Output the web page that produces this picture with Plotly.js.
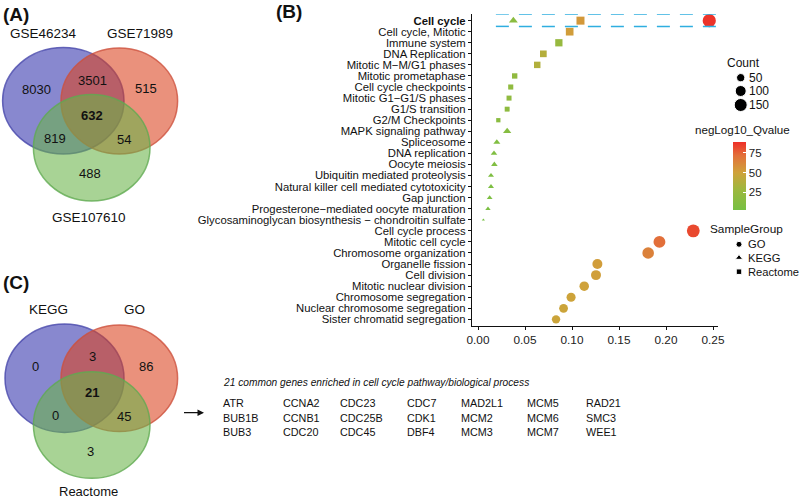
<!DOCTYPE html>
<html>
<head>
<meta charset="utf-8">
<script src="https://cdn.plot.ly/plotly-3.0.1.min.js"></script>
<style>html,body{margin:0;padding:0;background:#fff;}#chart{width:800px;height:498px;}</style>
</head>
<body>
<div id="chart"></div>
<script>
// ---------- Panel B data ----------
const termOrder = ['Cell cycle','Cell cycle, Mitotic','Immune system','DNA Replication','Mitotic M\u2212M/G1 phases','Mitotic prometaphase','Cell cycle checkpoints','Mitotic G1\u2212G1/S phases','G1/S transition','G2/M Checkpoints','MAPK signaling pathway','Spliceosome','DNA replication','Oocyte meiosis','Ubiquitin mediated proteolysis','Natural killer cell mediated cytotoxicity','Gap junction','Progesterone\u2212mediated oocyte maturation','Glycosaminoglycan biosynthesis \u2212 chondroitin sulfate','Cell cycle process','Mitotic cell cycle','Chromosome organization','Organelle fission','Cell division','Mitotic nuclear division','Chromosome segregation','Nuclear chromosome segregation','Sister chromatid segregation'];

const goTerms = ['Cell cycle','Cell cycle process','Mitotic cell cycle','Chromosome organization','Organelle fission','Cell division','Mitotic nuclear division','Chromosome segregation','Nuclear chromosome segregation','Sister chromatid segregation'];
const goRatio = [0.246,0.229,0.193,0.181,0.127,0.1255,0.113,0.099,0.091,0.083];
const goCount = [155,145,122,114,80,79,71,63,58,52];
const goQ = [88,82,72,64,52,51,50,49,48,48];

const keggTerms = ['Cell cycle','MAPK signaling pathway','Spliceosome','DNA replication','Oocyte meiosis','Ubiquitin mediated proteolysis','Natural killer cell mediated cytotoxicity','Gap junction','Progesterone\u2212mediated oocyte maturation','Glycosaminoglycan biosynthesis \u2212 chondroitin sulfate'];
const keggRatio = [0.0376,0.031,0.020,0.017,0.0174,0.0138,0.0138,0.0124,0.0106,0.0057];
const keggCount = [24,20,13,11,11,9,9,8,7,4];
const keggQ = [16,12,9,8,8,7,6,6,5,2];

const reactTerms = ['Cell cycle','Cell cycle, Mitotic','Immune system','DNA Replication','Mitotic M\u2212M/G1 phases','Mitotic prometaphase','Cell cycle checkpoints','Mitotic G1\u2212G1/S phases','G1/S transition','G2/M Checkpoints'];
const reactRatio = [0.109,0.0975,0.086,0.0695,0.063,0.039,0.0348,0.033,0.031,0.0216];
const reactCount = [69,62,54,44,40,25,22,21,20,14];
const reactQ = [54,52,24,38,37,20,19,19,18,15];

const xTicks = [0,0.05,0.10,0.15,0.20,0.25];
const countLegend = [50,100,150];
const qTicks = [25,50,75];
const groupNames = ['GO','KEGG','Reactome'];

// ---------- Venn data ----------
const vennA_sets = ['GSE46234','GSE71989','GSE107610'];
const vennA_vals = ['8030','3501','515','632','819','54','488'];
const vennC_sets = ['KEGG','GO','Reactome'];
const vennC_vals = ['0','3','86','21','0','45','3'];
const geneTitle = '21 common genes enriched in cell cycle pathway/biological process';
const genes = [['ATR','BUB1B','BUB3'],['CCNA2','CCNB1','CDC20'],['CDC23','CDC25B','CDC45'],['CDC7','CDK1','DBF4'],['MAD2L1','MCM2','MCM3'],['MCM5','MCM6','MCM7'],['RAD21','SMC3','WEE1']];

// ---------- helpers ----------
const W = 800, H = 498;
const px = x => x / W;
const py = y => 1 - y / H;
const FONT = 'Liberation Sans, Arial, sans-serif';
const cMin = 4, cMax = 155;
function sz(c, k) { return 2.2 * (1 + 5 * Math.sqrt(Math.max(0, (c - cMin) / (cMax - cMin)))) * k; }

const colorscale = [[0,'#77C043'],[0.3,'#9DB83E'],[0.55,'#CFA23A'],[0.8,'#E2703A'],[1,'#EE2F28']];

const traces = [
  {type:'scatter', mode:'markers', name:'GO', x: goRatio, y: goTerms,
   marker:{symbol:'circle', opacity:1, size: goCount.map(c=>sz(c,1)), color: goQ, coloraxis:'coloraxis', line:{width:0}}, showlegend:false, hoverinfo:'skip'},
  {type:'scatter', mode:'markers', name:'KEGG', x: keggRatio, y: keggTerms,
   marker:{symbol:'triangle-up', opacity:1, size: keggCount.map(c=>sz(c,1.25)), color: keggQ, coloraxis:'coloraxis', line:{width:0}}, showlegend:false, hoverinfo:'skip'},
  {type:'scatter', mode:'markers', name:'Reactome', x: reactRatio, y: reactTerms,
   marker:{symbol:'square', opacity:1, size: reactCount.map(c=>sz(c,0.85)), color: reactQ, coloraxis:'coloraxis', line:{width:0}}, showlegend:false, hoverinfo:'skip'},
  // legend glyphs on pixel axis
  {type:'scatter', mode:'markers', xaxis:'x2', yaxis:'y2', x:[740.7,740.7,740.7], y:[77.7,91,105],
   marker:{symbol:'circle', opacity:1, color:'#000', size: countLegend.map(c=>sz(c,1))}, showlegend:false, hoverinfo:'skip'},
  {type:'scatter', mode:'markers', xaxis:'x2', yaxis:'y2', x:[739,739,739], y:[244.3,257.7,271.7],
   marker:{symbol:['circle','triangle-up','square'], opacity:1, color:'#000', size:[6,6.5,5.5]}, showlegend:false, hoverinfo:'skip'}
];

const shapes = [];
const ann = [];
function circ(cx, cy, rx, ry, fill, line) {
  shapes.push({type:'circle', xref:'paper', yref:'paper', x0:px(cx-rx), x1:px(cx+rx), y0:py(cy+ry), y1:py(cy-ry),
    fillcolor: fill, line:{color: line, width:1.5}, layer:'below'});
}
function txt(x, y, t, size, opts) {
  ann.push(Object.assign({xref:'paper', yref:'paper', x:px(x), y:py(y), text:t, showarrow:false,
    xanchor:'center', yanchor:'middle', font:{family:FONT, size:size, color:'#111'}}, opts||{}));
}
const BLUE = 'rgba(45,45,170,0.57)', RED = 'rgba(218,65,30,0.58)', GREEN = 'rgba(105,180,72,0.58)';
const BLUEL = 'rgba(70,70,170,0.8)', REDL = 'rgba(205,80,60,0.8)', GREENL = 'rgba(95,170,80,0.8)';

// Venn A
circ(63.3,100.8,60.7,53.2,BLUE,BLUEL);
circ(119.3,101,58.3,53,RED,REDL);
circ(91.7,147.7,58.3,53.3,GREEN,GREENL);
// Venn C
circ(64.5,378.2,59.5,54.2,BLUE,BLUEL);
circ(119.3,378.3,58.3,53.3,RED,REDL);
circ(91.7,425,58.3,53.3,GREEN,GREENL);

// panel letters
txt(1,14,'<b>(A)</b>',19,{xanchor:'left'});
txt(274,11,'<b>(B)</b>',19,{xanchor:'left'});
txt(1,282,'<b>(C)</b>',19,{xanchor:'left'});

// Venn A labels
txt(43.3,33.3,vennA_sets[0],13.5);
txt(140.3,33.3,vennA_sets[1],13.5);
txt(89.2,217.7,vennA_sets[2],13.5);
const vAPos = [[36,89.3],[92.7,80],[145.7,88.7],[92,115.3],[55,138.3],[124.3,140],[90,173.3]];
vennA_vals.forEach((v,i)=>txt(vAPos[i][0],vAPos[i][1], i===3?'<b>'+v+'</b>':v, 13));
// Venn C labels
txt(48.3,309.3,vennC_sets[0],13.5);
txt(134.5,309.3,vennC_sets[1],13.5);
txt(88.2,491,vennC_sets[2],13);
const vCPos = [[35.7,366.7],[92.3,356.7],[145.7,366.7],[92,392.7],[55,415.7],[124.3,416.7],[90,451.7]];
vennC_vals.forEach((v,i)=>txt(vCPos[i][0],vCPos[i][1], i===3?'<b>'+v+'</b>':v, 13));

// arrow
ann.push({xref:'paper', yref:'paper', x:px(204), y:py(412.7), ax:-21.5, ay:0, axref:'pixel', ayref:'pixel',
  text:'', showarrow:true, arrowhead:2, arrowsize:1, arrowwidth:1.3, arrowcolor:'#111'});

// gene table
txt(220.7,382.3,'<i>'+geneTitle+'</i>',10.2,{xanchor:'left'});
const colX = [220.7,280.7,338.3,405,459.3,525,584];
const rowY = [403.3,417.7,431.7];
genes.forEach((col,ci)=>col.forEach((g,ri)=>txt(colX[ci],rowY[ri],g,10.8,{xanchor:'left'})));

// legends text
txt(725,63,'Count',12,{xanchor:'left'});
countLegend.forEach((c,i)=>txt(747,[77.7,91,105][i],String(c),12,{xanchor:'left'}));
txt(693,129,'negLog10_Qvalue',11.6,{xanchor:'left'});
txt(708,229,'SampleGroup',11.8,{xanchor:'left'});
groupNames.forEach((g,i)=>txt(746,[244.3,257.7,271.7][i],g,11.2,{xanchor:'left'}));

// dashed highlight around "Cell cycle"
const DASH = {color:'#2FAEE0', width:1.5, dash:'13px,10px'};
shapes.push({type:'line', xref:'x', yref:'y', x0:0.019, x1:0.259, y0:-0.61, y1:-0.61, line:DASH, layer:'above'});
shapes.push({type:'line', xref:'x', yref:'y', x0:0.019, x1:0.259, y0:0.52, y1:0.52, line:DASH, layer:'above'});

const tickText = termOrder.map(t => t==='Cell cycle' ? '<b>Cell cycle</b>' : t);

const layout = {
  width: W, height: H,
  margin:{l:0,r:0,t:0,b:0},
  paper_bgcolor:'#fff', plot_bgcolor:'rgba(0,0,0,0)',
  font:{family:FONT, color:'#111'},
  showlegend:false,
  xaxis:{domain:[px(472), px(718)], range:[-0.0064,0.2553], tickvals:xTicks, ticktext:xTicks.map(v=>v.toFixed(2)),
    showline:true, linecolor:'#111', linewidth:1.1, ticks:'outside', ticklen:3, tickcolor:'#111',
    showgrid:false, zeroline:false, tickfont:{size:11.8, color:'#222'}, anchor:'y', fixedrange:true},
  yaxis:{domain:[py(326), py(14)], type:'category', categoryorder:'array', categoryarray:termOrder,
    tickvals:termOrder, ticktext:tickText, range:[27.6,-0.6],
    showline:true, linecolor:'#111', linewidth:1.1, ticks:'outside', ticklen:3, tickcolor:'#111',
    showgrid:false, zeroline:false, tickfont:{size:11.3, color:'#111'}, anchor:'x', fixedrange:true},
  xaxis2:{domain:[0,1], range:[0,W], visible:false, anchor:'y2', fixedrange:true},
  yaxis2:{domain:[0,1], range:[H,0], visible:false, anchor:'x2', fixedrange:true},
  coloraxis:{colorscale: colorscale, cmin:2, cmax:89,
    colorbar:{x:px(732.7), xanchor:'left', xpad:0, y:py(176), yanchor:'middle', ypad:0,
      thickness:13, thicknessmode:'pixels', len:68, lenmode:'pixels', outlinewidth:0,
      tickvals:qTicks, ticks:'inside', ticklen:3, tickcolor:'#fff', tickwidth:1,
      tickfont:{size:11.5, color:'#222', family:FONT}}},
  shapes: shapes,
  annotations: ann
};

Plotly.newPlot('chart', traces, layout, {displayModeBar:false, staticPlot:true});
</script>
</body>
</html>
